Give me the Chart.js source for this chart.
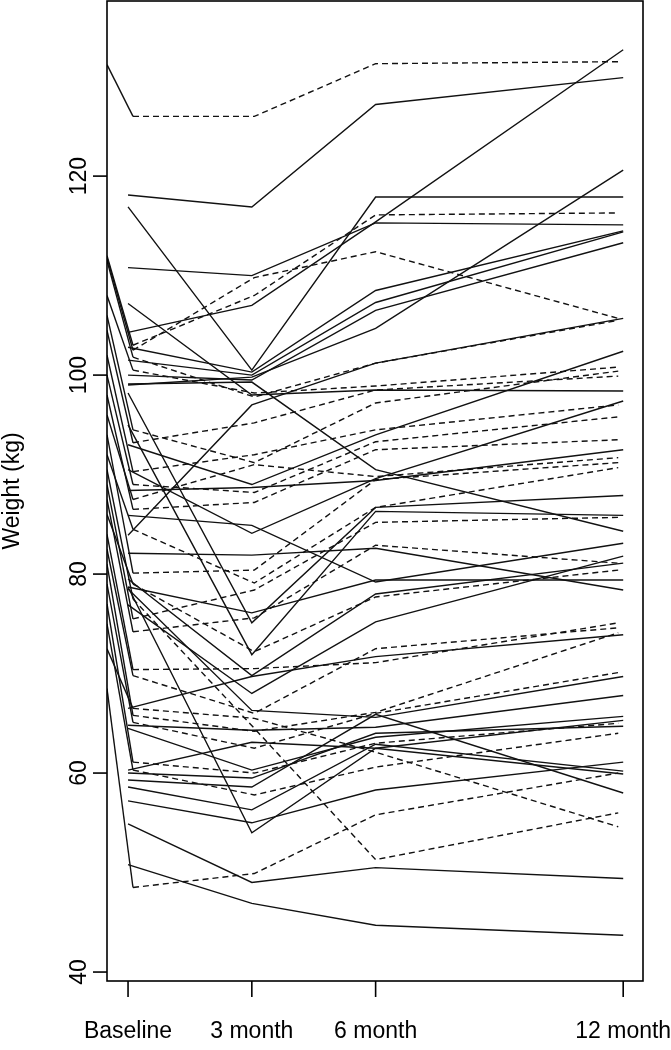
<!DOCTYPE html>
<html>
<head>
<meta charset="utf-8">
<script src="https://cdn.jsdelivr.net/npm/chart.js@4/dist/chart.umd.min.js"></script>
<style>
  html, body { margin: 0; padding: 0; background: #fff; }
  #wrap { width: 671px; height: 1050px; }
</style>
</head>
<body>
<div id="wrap"><canvas id="weights" width="671" height="1050"></canvas></div>
<script>
// time points (months) and their labels
const timeLabels = ['Baseline', '3 month', '6 month', '12 month'];
const timeMonths = [0, 3, 6, 12];
const yTicks = [40, 60, 80, 100, 120];

// solid-line patients: weight (kg) at each visit
const solidBase = [118.1, 116.9, 110.8, 104.3, 102.8, 101.5, 100.0, 99.0, 107.2, 83.9, 93.0, 90.5, 99.1, 88.4, 98.2, 95.0, 85.9, 82.1, 78.7, 79.5, 76.9, 66.5, 78.5, 64.8, 64.5, 60.3, 60.0, 59.3, 58.6, 57.2, 78.7, 54.9, 50.8];
const solid3m   = [116.9, 100.5, 110.0, 107.0, 100.3, 100.0, 99.5, 99.8, 98.0, 97.0, 89.0, 84.1, 99.3, 88.7, 75.1, 71.9, 84.9, 81.9, 76.1, 69.8, 68.0, 69.7, 66.3, 64.3, 60.3, 63.1, 59.5, 58.6, 56.3, 55.0, 54.0, 49.0, 46.9];
const solid6m   = [127.2, 117.9, 115.3, 115.4, 108.5, 107.3, 106.5, 104.7, 98.5, 101.2, 94.0, 89.6, 90.5, 89.4, 86.7, 86.3, 79.2, 82.6, 79.4, 78.0, 75.2, 71.7, 65.6, 64.6, 63.6, 62.5, 64.0, 65.9, 62.9, 58.3, 62.5, 50.5, 44.7];
const solid12m  = [129.9, 117.9, 115.1, 132.7, 114.5, 114.4, 113.3, 120.6, 98.4, 105.7, 102.4, 97.4, 84.3, 92.5, 87.9, 85.9, 83.1, 78.4, 79.4, 81.1, 81.8, 73.9, 69.7, 67.8, 65.7, 65.3, 64.7, 58.0, 60.2, 61.1, 59.9, 49.4, 43.7];

// dashed-line patients: pre-baseline weight (runs off the left edge), then the visits
const dashedPre  = [131.2, 112.0, 111.8, 111.5, 108.0, 106.0, 104.5, 102.0, 100.0, 98.0, 96.0, 94.0, 92.0, 90.5, 89.0, 87.5, 86.0, 84.0, 82.5, 81.0, 79.0, 77.0, 75.0, 72.5, 68.5];
const dashedBase = [126.0, 103.0, 102.5, 101.8, 100.5, 94.5, 93.2, 90.3, 89.0, 86.5, 87.5, 80.1, 84.5, 77.5, 75.5, 74.2, 79.0, 70.4, 69.8, 65.8, 65.1, 61.1, 60.3, 66.5, 48.5];
const dashed3m   = [126.0, 108.0, 109.8, 97.8, 98.2, 91.2, 95.2, 92.0, 88.2, 87.2, 91.0, 80.4, 79.1, 64.5, 78.4, 75.6, 72.2, 70.5, 66.0, 64.2, 62.5, 60.0, 57.8, 65.5, 49.9];
const dashed6m   = [131.3, 116.1, 112.4, 101.2, 98.9, 97.2, 98.5, 94.5, 93.3, 92.5, 89.8, 89.5, 86.7, 51.3, 85.2, 82.9, 77.7, 71.1, 72.5, 66.1, 66.0, 63.0, 60.6, 62.1, 55.8];
const dashed12m  = [131.5, 116.3, 105.7, 105.5, 100.8, 100.4, 99.9, 97.0, 95.8, 93.5, 91.7, 91.2, 90.7, 56.0, 85.7, 81.1, 80.4, 75.1, 74.6, 74.1, 70.1, 65.0, 64.0, 54.6, 60.0];

// the dashed group is plotted slightly squeezed inside the visit positions
const dashedShift = 0.12, dashedScale = 0.98;
const preMonth = -0.51;

const datasets = [];
solidBase.forEach((b, i) => {
  const vals = [b, solid3m[i], solid6m[i], solid12m[i]];
  datasets.push({
    data: vals.map((v, k) => ({ x: timeMonths[k], y: v })),
    borderColor: '#111', borderWidth: 1.4, pointRadius: 0, tension: 0
  });
});
dashedBase.forEach((b, i) => {
  const vals = [b, dashed3m[i], dashed6m[i], dashed12m[i]];
  const pts = [{ x: preMonth, y: dashedPre[i] }].concat(
    vals.map((v, k) => ({ x: dashedShift + dashedScale * timeMonths[k], y: v })));
  datasets.push({
    data: pts,
    borderColor: '#111', borderWidth: 1.4, pointRadius: 0, tension: 0,
    segment: { borderDash: c => c.p0DataIndex === 0 ? [] : [6, 4] }
  });
});

// R-style box, ticks and labels drawn from the chart's own scales
const rAxes = {
  id: 'rAxes',
  afterDraw(chart) {
    const { ctx, chartArea: a, scales: { x, y } } = chart;
    ctx.save();
    ctx.strokeStyle = '#000';
    ctx.fillStyle = '#000';
    ctx.lineWidth = 1.6;
    ctx.strokeRect(a.left, a.top, a.right - a.left, a.bottom - a.top);
    const seg = (x1, y1, x2, y2) => { ctx.beginPath(); ctx.moveTo(x1, y1); ctx.lineTo(x2, y2); ctx.stroke(); };
    ctx.font = '23px "Liberation Sans", Arial, sans-serif';
    ctx.textAlign = 'center';
    ctx.textBaseline = 'middle';
    timeMonths.forEach((m, i) => {
      const px = x.getPixelForValue(m);
      seg(px, a.bottom, px, a.bottom + 16);
      ctx.fillText(timeLabels[i], px, a.bottom + 51);
    });
    yTicks.forEach(v => {
      const py = y.getPixelForValue(v);
      seg(a.left - 14, py, a.left, py);
      ctx.save();
      ctx.translate(a.left - 27, py);
      ctx.rotate(-Math.PI / 2);
      ctx.fillText(String(v), 0, 0);
      ctx.restore();
    });
    ctx.translate(13, (a.top + a.bottom) / 2);
    ctx.rotate(-Math.PI / 2);
    ctx.fillText('Weight (kg)', 0, 0);
    ctx.restore();
  }
};

new Chart(document.getElementById('weights'), {
  type: 'line',
  data: { datasets },
  plugins: [rAxes],
  options: {
    responsive: false,
    animation: false,
    devicePixelRatio: 1,
    layout: { padding: { left: 107, right: 28, top: 1, bottom: 69 } },
    plugins: { legend: { display: false }, tooltip: { enabled: false } },
    scales: {
      x: { type: 'linear', min: -0.51, max: 12.48, display: false },
      y: { type: 'linear', min: 39.1, max: 137.6, display: false }
    }
  }
});
</script>
</body>
</html>
